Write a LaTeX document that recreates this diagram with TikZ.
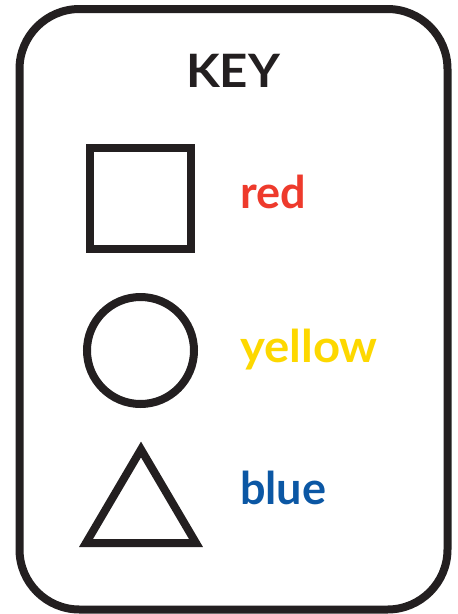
\documentclass[tikz,border=0pt]{standalone}
\usepackage{fontspec}
\setmainfont{Lato}
\definecolor{inkblack}{HTML}{231F20}
\definecolor{keyred}{HTML}{EE3A2C}
\definecolor{keyyellow}{HTML}{FDD800}
\definecolor{keyblue}{HTML}{0B57A4}
\begin{document}
\begin{tikzpicture}[x=1pt,y=-1pt,
  outline/.style={draw=inkblack,line width=8pt},
  label/.style={anchor=base west,inner sep=0pt,font=\fontsize{45}{50}\selectfont\bfseries}]
\useasboundingbox (0,0) rectangle (458,614);
\fill[white] (0,0) rectangle (458,614);
\draw[outline,rounded corners=60pt] (19.5,9) rectangle (447.5,609.5);
\node[anchor=base,inner sep=0pt,text=inkblack,font=\fontsize{46}{50}\selectfont\bfseries] (key) at (233,87) {\scalebox{1.07}[1]{KEY}};
\draw[outline,miter limit=10] (90,148) rectangle (191,249);
\draw[outline] (140.5,350.5) circle[radius=53.5];
\draw[outline,miter limit=10] (141,449.5) -- (196,543) -- (86,543) -- cycle;
\node[label,text=keyred] (red) at (240,208) {red};
\node[label,text=keyyellow] (yellow) at (240,362) {\scalebox{1.05}[1]{yellow}};
\node[label,text=keyblue] (blue) at (240,504) {blue};
\end{tikzpicture}
\end{document}
